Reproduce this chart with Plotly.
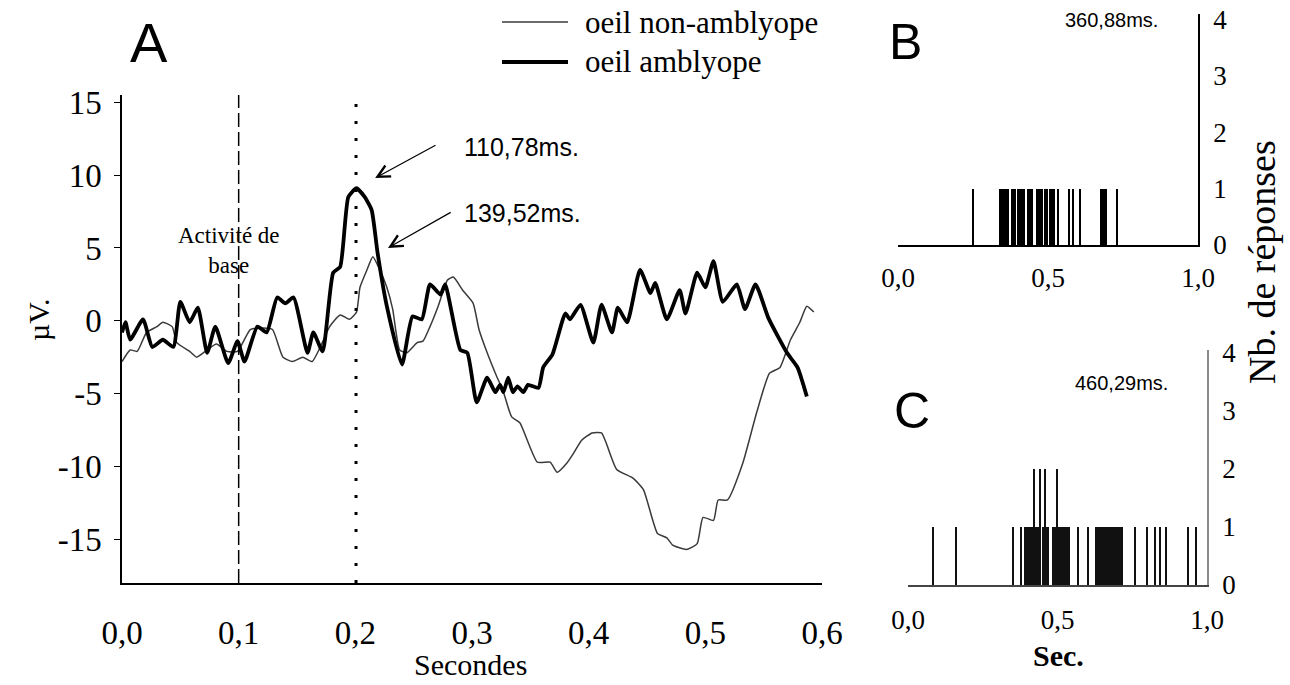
import plotly.graph_objects as go

# ---------------- data ----------------
# Panel A : evoked potentials (seconds, microvolts)
amb_t = [0.000, 0.003, 0.007, 0.018, 0.026, 0.035, 0.044, 0.050, 0.058, 0.065,
         0.073, 0.080, 0.091, 0.099, 0.105, 0.116, 0.124, 0.133, 0.140, 0.147,
         0.159, 0.164, 0.172, 0.181, 0.187, 0.194, 0.201, 0.208, 0.214, 0.219,
         0.227, 0.240, 0.249, 0.257, 0.264, 0.273, 0.277, 0.290, 0.296, 0.304,
         0.313, 0.320, 0.324, 0.327, 0.331, 0.335, 0.339, 0.344, 0.348, 0.357,
         0.361, 0.369, 0.380, 0.384, 0.393, 0.404, 0.411, 0.420, 0.425, 0.433,
         0.444, 0.453, 0.457, 0.467, 0.478, 0.483, 0.493, 0.500, 0.507, 0.515,
         0.527, 0.534, 0.543, 0.554, 0.570, 0.579, 0.587]
amb_v = [-0.8, -0.1, -1.3, 0.1, -1.8, -1.3, -1.8, 1.3, -0.1, 0.9,
         -2.2, -0.4, -2.9, -1.4, -2.8, -0.4, -0.8, 1.6, 1.2, 1.6,
         -2.2, -0.8, -2.1, 3.3, 3.7, 8.5, 9.1, 8.5, 7.6, 4.7,
         1.0, -3.0, 0.3, 0.1, 2.5, 1.8, 2.5, -2.0, -2.2, -5.6,
         -3.9, -4.9, -4.4, -4.9, -3.9, -4.9, -4.5, -4.9, -4.4, -4.6,
         -3.2, -2.3, 0.5, 0.1, 1.1, -1.5, 1.1, -0.8, 0.9, -0.1,
         3.5, 1.9, 2.6, 0.1, 2.1, 0.5, 3.3, 2.3, 4.1, 1.3,
         2.5, 0.8, 2.5, 0.2, -2.2, -3.2, -5.2]

non_t = [0.000, 0.007, 0.013, 0.021, 0.030, 0.035, 0.043, 0.047, 0.058, 0.064,
         0.073, 0.081, 0.090, 0.099, 0.110, 0.121, 0.129, 0.138, 0.146, 0.155,
         0.163, 0.170, 0.178, 0.187, 0.195, 0.201, 0.204, 0.210, 0.215, 0.221,
         0.227, 0.232, 0.238, 0.244, 0.253, 0.258, 0.264, 0.271, 0.279, 0.284,
         0.292, 0.301, 0.306, 0.313, 0.320, 0.327, 0.334, 0.341, 0.356, 0.367,
         0.373, 0.381, 0.387, 0.394, 0.403, 0.411, 0.424, 0.438, 0.447, 0.459,
         0.467, 0.472, 0.484, 0.493, 0.498, 0.507, 0.511, 0.519, 0.532, 0.544,
         0.555, 0.564, 0.573, 0.581, 0.587, 0.593]
non_v = [-2.8, -2.0, -2.1, -0.8, -0.4, -0.1, -0.4, -1.5, -2.1, -2.5,
         -2.0, -1.6, -2.1, -2.1, -0.6, -0.5, -0.6, -2.5, -2.8, -2.5,
         -2.8, -1.8, -0.4, 0.4, 0.1, 0.6, 2.3, 3.5, 4.4, 3.5,
         2.3, 0.8, -2.0, -2.2, -1.5, -1.4, -0.4, 1.0, 2.8, 3.0,
         2.1, 1.2, -0.6, -2.2, -3.6, -4.9, -6.6, -7.0, -9.7, -9.7,
         -10.4, -9.8, -9.1, -8.2, -7.7, -7.7, -10.2, -10.8, -11.6, -14.6,
         -14.9, -15.4, -15.7, -15.3, -13.5, -13.7, -12.3, -12.3, -9.8, -6.3,
         -3.6, -3.2, -1.3, -0.1, 1.0, 0.6]

baseline_end = 0.1
peak_marker = 0.2006
a_yticks = [-15, -10, -5, 0, 5, 10, 15]
a_yticklabels = ["-15", "-10", "-5", "0", "5", "10", "15"]
a_xticks = [0.0, 0.1, 0.2, 0.3, 0.4, 0.5, 0.6]
a_xticklabels = ["0,0", "0,1", "0,2", "0,3", "0,4", "0,5", "0,6"]

# Panel B : response times (s) and counts
b_times = [0.251, 0.340, 0.346, 0.354, 0.358, 0.362, 0.366, 0.380, 0.385, 0.390,
           0.399, 0.404, 0.409, 0.414, 0.419, 0.433, 0.438, 0.443, 0.447, 0.465,
           0.470, 0.475, 0.481, 0.491, 0.498, 0.508, 0.512, 0.516, 0.520, 0.534,
           0.570, 0.584, 0.607, 0.677, 0.682, 0.687, 0.692, 0.729]
b_counts = [1] * len(b_times)

# Panel C : response times (s) and counts
c_times = [0.084, 0.160, 0.351, 0.379, 0.392, 0.396, 0.400, 0.404, 0.408, 0.412,
           0.416, 0.420, 0.423, 0.428, 0.432, 0.436, 0.440, 0.443, 0.450, 0.457,
           0.462, 0.468, 0.484, 0.488, 0.492, 0.499, 0.504, 0.508, 0.514, 0.520,
           0.526, 0.532, 0.538, 0.570, 0.601, 0.628, 0.632, 0.636, 0.640, 0.644,
           0.648, 0.652, 0.656, 0.662, 0.668, 0.674, 0.680, 0.686, 0.692, 0.698,
           0.704, 0.710, 0.716, 0.760, 0.801, 0.827, 0.843, 0.864, 0.938, 0.962]
c_counts = [1, 1, 1, 1, 1, 1, 1, 1, 1, 1,
            1, 1, 2, 1, 1, 1, 1, 2, 1, 2,
            1, 1, 1, 1, 1, 2, 1, 1, 1, 1,
            1, 1, 1, 1, 1, 1, 1, 1, 1, 1,
            1, 1, 1, 1, 1, 1, 1, 1, 1, 1,
            1, 1, 1, 1, 1, 1, 1, 1, 1, 1]

bc_xticks = [0.0, 0.5, 1.0]
bc_xticklabels = ["0,0", "0,5", "1,0"]
bc_yticks = [0, 1, 2, 3, 4]

# ---------------- figure ----------------
SERIF = "Liberation Serif, Times New Roman, serif"
SANS = "Liberation Sans, Arial, sans-serif"
W, H = 1290, 685

def px(x):
    return x / W

def py(y):
    return 1 - y / H

fig = go.Figure()

fig.add_trace(go.Scatter(x=non_t, y=non_v, mode="lines",
                         line=dict(color="#3a3a3a", width=1.5, shape="spline", smoothing=0.5),
                         xaxis="x", yaxis="y", showlegend=False, name="oeil non-amblyope"))
fig.add_trace(go.Scatter(x=amb_t, y=amb_v, mode="lines",
                         line=dict(color="black", width=3.8, shape="spline", smoothing=0.5),
                         xaxis="x", yaxis="y", showlegend=False, name="oeil amblyope"))

fig.add_trace(go.Bar(x=b_times, y=b_counts, width=0.0036, marker=dict(color="black", line=dict(width=0)),
                     xaxis="x2", yaxis="y2", showlegend=False))
fig.add_trace(go.Bar(x=c_times, y=c_counts, width=0.0036, marker=dict(color="#111111", line=dict(width=0)),
                     xaxis="x3", yaxis="y3", showlegend=False))

axis_font_A = dict(family=SERIF, size=33, color="black")
axis_font_BC = dict(family=SERIF, size=27, color="black")

common = dict(showgrid=False, zeroline=False, automargin=False)

fig.update_layout(
    template="none",
    width=W, height=H,
    margin=dict(l=0, r=0, t=0, b=0, pad=0),
    paper_bgcolor="white", plot_bgcolor="white",
    bargap=0,
    xaxis=dict(domain=[px(122), px(822)], range=[0, 0.6], anchor="y",
               tickvals=a_xticks, ticktext=a_xticklabels, ticks="",
               showline=True, linecolor="black", linewidth=1.5,
               tickfont=axis_font_A, ticklabelstandoff=20, **common),
    yaxis=dict(domain=[py(583), py(95)], range=[-18, 15.5], anchor="x",
               tickvals=a_yticks, ticktext=a_yticklabels, ticks="outside", ticklen=6, tickcolor="black",
               tickwidth=1.2, showline=True, linecolor="black", linewidth=1.5,
               tickfont=axis_font_A, ticklabelstandoff=6, **common),
    xaxis2=dict(domain=[px(898), px(1198)], range=[0, 1.0], anchor="y2",
                tickvals=bc_xticks, ticktext=bc_xticklabels, ticks="",
                showline=True, linecolor="black", linewidth=1.5,
                tickfont=axis_font_BC, ticklabelstandoff=8, **common),
    yaxis2=dict(domain=[py(245), py(14)], range=[0, 4.1], anchor="x2", side="right",
                tickvals=bc_yticks, ticks="",
                showline=True, linecolor="black", linewidth=1.5,
                tickfont=axis_font_BC, ticklabelstandoff=8, **common),
    xaxis3=dict(domain=[px(908), px(1207)], range=[0, 1.0], anchor="y3",
                tickvals=bc_xticks, ticktext=bc_xticklabels, ticks="",
                showline=True, linecolor="#444444", linewidth=1.5,
                tickfont=axis_font_BC, ticklabelstandoff=10, **common),
    yaxis3=dict(domain=[py(585), py(350)], range=[0, 4.05], anchor="x3", side="right",
                tickvals=bc_yticks, ticks="",
                showline=True, linecolor="#8a8a8a", linewidth=1.5,
                tickfont=axis_font_BC, ticklabelstandoff=8, **common),
)

# reference lines in panel A
fig.add_shape(type="line", xref="x", yref="y domain", x0=baseline_end, x1=baseline_end, y0=0, y1=1,
              line=dict(color="black", width=1.5, dash="14px,5px"))
fig.add_shape(type="line", xref="x", yref="y domain", x0=peak_marker, x1=peak_marker, y0=0, y1=0.995,
              line=dict(color="black", width=3, dash="3px,14px"))

# legend (manual)
fig.add_shape(type="line", xref="paper", yref="paper", x0=px(502), x1=px(568), y0=py(22), y1=py(22),
              line=dict(color="#3a3a3a", width=1.5))
fig.add_shape(type="line", xref="paper", yref="paper", x0=px(502), x1=px(568), y0=py(62), y1=py(62),
              line=dict(color="black", width=3.8))

def text(x, y, s, font, xanchor="left", yanchor="middle", angle=0):
    fig.add_annotation(x=px(x), y=py(y), xref="paper", yref="paper", text=s, showarrow=False,
                       font=font, xanchor=xanchor, yanchor=yanchor, textangle=angle)

text(583, 22, "oeil non-amblyope", dict(family=SERIF, size=31, color="black"))
text(583, 62, "oeil amblyope", dict(family=SERIF, size=31, color="black"))

text(149, 42, "A", dict(family=SANS, size=56, color="black"), xanchor="center")
text(905, 42, "B", dict(family=SANS, size=50, color="black"), xanchor="center")
text(912, 411, "C", dict(family=SANS, size=50, color="black"), xanchor="center")

text(38, 320, "µV.", dict(family=SERIF, size=30, color="black"), xanchor="center", angle=-90)
text(470, 664, "Secondes", dict(family=SERIF, size=30, color="black"), xanchor="center")
text(1058, 655, "<b>Sec.</b>", dict(family=SERIF, size=30, color="black"), xanchor="center")
text(1262, 262, "Nb. de réponses", dict(family=SERIF, size=38, color="black"), xanchor="center", angle=-90)

text(1160, 20, "360,88ms.", dict(family=SANS, size=20, color="black"), xanchor="right")
text(1170, 383, "460,29ms.", dict(family=SANS, size=20, color="black"), xanchor="right")

fig.add_annotation(x=px(176), y=py(250), xref="paper", yref="paper",
                   text="Activité de<br>base", showarrow=False,
                   font=dict(family=SERIF, size=23, color="black"), align="center")

# latency annotations with arrows
fig.add_annotation(x=0.217, y=9.8, xref="x", yref="y", ax=0.270, ay=12.1, axref="x", ayref="y",
                   text="", showarrow=True, arrowhead=5, arrowsize=2, arrowwidth=1.2, arrowcolor="black")
fig.add_annotation(x=0.228, y=5.0, xref="x", yref="y", ax=0.283, ay=7.5, axref="x", ayref="y",
                   text="", showarrow=True, arrowhead=5, arrowsize=2, arrowwidth=1.2, arrowcolor="black")
text(462, 147, "110,78ms.", dict(family=SANS, size=25, color="black"))
text(462, 213, "139,52ms.", dict(family=SANS, size=25, color="black"))

fig.write_html("out.html")
